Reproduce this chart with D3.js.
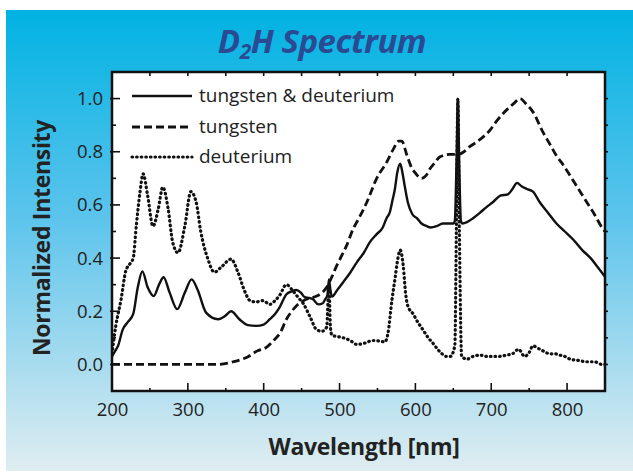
<!DOCTYPE html>
<html><head><meta charset="utf-8">
<script src="https://cdn.jsdelivr.net/npm/d3@7"></script>
<style>html,body{margin:0;padding:0;background:#fff;}svg{display:block;}</style>
</head><body>
<svg id="chart" width="633" height="473"></svg>
<script>
// ---------- data ----------
const titleMain = "D";
const titleSub = "2";
const titleRest = "H Spectrum";
const xTitle = "Wavelength [nm]";
const yTitle = "Normalized Intensity";
const xTicks = [200, 300, 400, 500, 600, 700, 800];
const yTicks = [0.0, 0.2, 0.4, 0.6, 0.8, 1.0];
const seriesNames = ["tungsten & deuterium", "tungsten", "deuterium"];

// tungsten & deuterium (solid)
const bothWl = [
200, 204, 208, 214, 221, 228, 234, 240, 247, 255,
262, 268, 276, 286, 296, 305, 313, 324, 340, 349,
357, 368, 379, 390, 400, 408, 415, 421, 430, 437,
443, 449, 454, 460, 465, 472, 478, 481, 484, 486,
488, 490, 497, 505, 514, 523, 532, 540, 549, 557,
562, 566, 570, 573, 576, 580, 583, 586, 590, 596,
602, 608, 615, 620, 628, 636, 643, 650, 652, 654.5,
656, 657.5, 660, 662, 668, 676, 685, 693, 702, 712,
722, 728, 734, 740, 747, 755, 764, 775, 786, 797,
808, 820, 831, 842, 850];
const bothVal = [
0.03, 0.05, 0.07, 0.13, 0.16, 0.19, 0.29, 0.35, 0.29, 0.257,
0.30, 0.328, 0.27, 0.208, 0.27, 0.32, 0.28, 0.195, 0.17, 0.182,
0.20, 0.17, 0.148, 0.145, 0.15, 0.17, 0.19, 0.215, 0.264, 0.275,
0.28, 0.27, 0.253, 0.25, 0.245, 0.226, 0.23, 0.245, 0.26, 0.32,
0.28, 0.255, 0.28, 0.31, 0.345, 0.385, 0.42, 0.46, 0.49, 0.515,
0.55, 0.57, 0.62, 0.66, 0.72, 0.755, 0.72, 0.67, 0.61, 0.565,
0.55, 0.53, 0.52, 0.515, 0.52, 0.53, 0.53, 0.53, 0.54, 0.8,
1.0, 0.8, 0.54, 0.53, 0.535, 0.55, 0.57, 0.59, 0.61, 0.635,
0.64, 0.66, 0.683, 0.67, 0.66, 0.65, 0.61, 0.57, 0.53, 0.5,
0.47, 0.43, 0.4, 0.36, 0.33];

// tungsten (dashed)
const tungWl = [
200, 250, 300, 340, 360, 380, 391, 404, 413, 422,
430, 437, 443, 450, 456, 463, 470, 477, 483, 490,
496, 503, 509, 518, 525, 536, 549, 562, 571, 578,
582, 589, 595, 600, 608, 614, 619, 626, 632, 645,
656, 664, 672, 680, 689, 698, 707, 716, 725, 731,
738, 746, 755, 768, 777, 786, 795, 804, 815, 826,
836, 846, 850];
const tungVal = [
0, 0, 0, 0, 0.01, 0.03, 0.05, 0.065, 0.09, 0.12,
0.17, 0.2, 0.22, 0.235, 0.245, 0.25, 0.257, 0.27, 0.29, 0.33,
0.37, 0.41, 0.445, 0.51, 0.547, 0.61, 0.70, 0.76, 0.81, 0.84,
0.84, 0.785, 0.74, 0.72, 0.70, 0.71, 0.735, 0.76, 0.78, 0.79,
0.79, 0.80, 0.82, 0.835, 0.855, 0.88, 0.915, 0.945, 0.97, 0.985,
1.0, 0.98, 0.95, 0.875, 0.83, 0.785, 0.75, 0.71, 0.66, 0.61,
0.565, 0.515, 0.5];

// deuterium (dotted)
const deutWl = [
200, 205, 212, 218, 224, 228, 232, 237, 241, 247,
254, 261, 267, 274, 280, 287, 296, 304, 311, 317,
326, 335, 344, 357, 366, 375, 382, 390, 399, 408,
415, 421, 430, 439, 446, 452, 461, 470, 477, 483,
486, 488, 490, 497, 505, 514, 523, 533, 544, 552,
560, 564, 569, 573, 577, 580, 584, 587, 590, 597,
603, 610, 617, 623, 630, 635, 641, 646, 652, 654,
656, 658, 661, 668, 676, 685, 694, 702, 711, 720,
728, 736, 744, 750, 755, 762, 769, 777, 784, 790,
797, 804, 815, 826, 836, 846, 850];
const deutVal = [
0.04, 0.145, 0.245, 0.35, 0.38, 0.40, 0.52, 0.65, 0.717, 0.635,
0.52, 0.585, 0.667, 0.585, 0.46, 0.42, 0.52, 0.65, 0.61, 0.50,
0.40, 0.347, 0.366, 0.396, 0.347, 0.275, 0.24, 0.235, 0.24, 0.226,
0.24, 0.26, 0.30, 0.275, 0.25, 0.23, 0.18, 0.13, 0.125, 0.14,
0.3, 0.14, 0.11, 0.105, 0.10, 0.09, 0.075, 0.08, 0.09, 0.088,
0.085, 0.12, 0.24, 0.32, 0.40, 0.43, 0.37, 0.27, 0.22, 0.19,
0.16, 0.13, 0.10, 0.08, 0.055, 0.04, 0.03, 0.03, 0.07, 0.5,
1.0, 0.5, 0.03, 0.02, 0.03, 0.035, 0.03, 0.03, 0.03, 0.035,
0.04, 0.057, 0.03, 0.045, 0.07, 0.06, 0.05, 0.04, 0.04, 0.035,
0.03, 0.02, 0.015, 0.01, 0.01, 0.0, 0.0];

// ---------- chart ----------
const svg = d3.select("#chart");
const W = 633, H = 473;
const FONT = "'Open Sans', 'Noto Sans', sans-serif";
const TEXT = "#222";

const defs = svg.append("defs");
const grad = defs.append("linearGradient").attr("id", "bg").attr("x1", 0).attr("y1", 0).attr("x2", 0).attr("y2", 1);
grad.append("stop").attr("offset", "0%").attr("stop-color", "#00b2e2");
grad.append("stop").attr("offset", "45%").attr("stop-color", "#5cc4ec");
grad.append("stop").attr("offset", "100%").attr("stop-color", "#dfedf1");

svg.append("rect").attr("x", 6).attr("y", 10).attr("width", W - 6).attr("height", 461).attr("fill", "url(#bg)");

const plot = {left: 112, right: 605, top: 72, bottom: 391};
const x = d3.scaleLinear().domain([200, 850]).range([plot.left, plot.right]);
const y = d3.scaleLinear().domain([-0.1, 1.1]).range([plot.bottom, plot.top]);

svg.append("rect").attr("x", plot.left).attr("y", plot.top)
  .attr("width", plot.right - plot.left).attr("height", plot.bottom - plot.top)
  .attr("fill", "#fff");

// title
const title = svg.append("text").attr("x", 322).attr("y", 53).attr("text-anchor", "middle")
  .attr("font-family", "'Noto Sans', 'Open Sans', sans-serif").attr("font-weight", "bold").attr("font-style", "italic")
  .attr("font-size", 33).attr("fill", "#2b4a94").attr("letter-spacing", -0.5);
title.append("tspan").text(titleMain);
title.append("tspan").attr("font-size", 21).attr("dy", 6).text(titleSub);
title.append("tspan").attr("dy", -6).text(titleRest);

// clip for data
defs.append("clipPath").attr("id", "clip").append("rect")
  .attr("x", plot.left).attr("y", plot.top).attr("width", plot.right - plot.left).attr("height", plot.bottom - plot.top);

const line = d3.line().x(d => x(d[0])).y(d => y(d[1])).curve(d3.curveMonotoneX);
const zip = (a, b) => a.map((v, i) => [v, b[i]]);

const DOT = "0.6,4", DASH = "8,4";
const g = svg.append("g").attr("clip-path", "url(#clip)");
g.append("path").datum(zip(deutWl, deutVal)).attr("d", line).attr("fill", "none")
  .attr("stroke", "#111").attr("stroke-width", 3.2).attr("stroke-linecap", "round")
  .attr("stroke-dasharray", DOT);
g.append("path").datum(zip(tungWl, tungVal)).attr("d", line).attr("fill", "none")
  .attr("stroke", "#111").attr("stroke-width", 2.8).attr("stroke-dasharray", DASH);
g.append("path").datum(zip(bothWl, bothVal)).attr("d", line).attr("fill", "none")
  .attr("stroke", "#111").attr("stroke-width", 2.4).attr("stroke-linejoin", "round");

// axes
const axisG = svg.append("g");
const bottomAx = d3.axisBottom(x).tickValues(xTicks).tickSize(0).tickPadding(12).tickFormat(d3.format("d"));
const ba = axisG.append("g").attr("transform", `translate(0,${plot.bottom})`).call(bottomAx);
ba.select(".domain").remove();
ba.selectAll("text").attr("font-family", FONT).attr("font-size", 18.5).attr("fill", TEXT);

const leftAx = d3.axisLeft(y).tickValues(yTicks).tickSize(0).tickPadding(9).tickFormat(d3.format(".1f"));
const la = axisG.append("g").attr("transform", `translate(${plot.left},0)`).call(leftAx);
la.select(".domain").remove();
la.selectAll("text").attr("font-family", FONT).attr("font-size", 18.5).attr("fill", TEXT);

// tick marks
const tk = svg.append("g").attr("stroke", "#111").attr("stroke-width", 1.6);
const xMinor = d3.range(250, 850, 100);
xTicks.forEach(v => {
  tk.append("line").attr("x1", x(v)).attr("x2", x(v)).attr("y1", plot.bottom).attr("y2", plot.bottom - 8);
  tk.append("line").attr("x1", x(v)).attr("x2", x(v)).attr("y1", plot.top).attr("y2", plot.top + 4);
});
xMinor.forEach(v => {
  tk.append("line").attr("x1", x(v)).attr("x2", x(v)).attr("y1", plot.bottom).attr("y2", plot.bottom - 3);
  tk.append("line").attr("x1", x(v)).attr("x2", x(v)).attr("y1", plot.top).attr("y2", plot.top + 4);
});
yTicks.forEach(v => {
  tk.append("line").attr("x1", plot.left - 2).attr("x2", plot.left + 8).attr("y1", y(v)).attr("y2", y(v));
  tk.append("line").attr("x1", plot.right).attr("x2", plot.right + 3).attr("y1", y(v)).attr("y2", y(v));
});
d3.range(0.1, 1.1, 0.2).forEach(v => {
  tk.append("line").attr("x1", plot.left).attr("x2", plot.left + 4).attr("y1", y(v)).attr("y2", y(v));
  tk.append("line").attr("x1", plot.right).attr("x2", plot.right + 3).attr("y1", y(v)).attr("y2", y(v));
});

// frame
svg.append("rect").attr("x", plot.left).attr("y", plot.top)
  .attr("width", plot.right - plot.left).attr("height", plot.bottom - plot.top)
  .attr("fill", "none").attr("stroke", "#111").attr("stroke-width", 2.5);

// axis titles
svg.append("text").attr("x", 364).attr("y", 455).attr("text-anchor", "middle")
  .attr("font-family", FONT).attr("font-weight", "bold").attr("font-size", 23).attr("fill", TEXT)
  .attr("letter-spacing", -0.3).text(xTitle);
svg.append("text").attr("transform", "translate(50,238) rotate(-90)").attr("text-anchor", "middle")
  .attr("font-family", FONT).attr("font-weight", "bold").attr("font-size", 23).attr("fill", TEXT)
  .attr("letter-spacing", -0.3).text(yTitle);

// legend
const legY = [96, 127, 157];
const legDash = [null, DASH, DOT];
const legW = [2.4, 2.8, 3.2];
const leg = svg.append("g");
seriesNames.forEach((name, i) => {
  leg.append("line").attr("x1", 132).attr("x2", 192).attr("y1", legY[i]).attr("y2", legY[i])
    .attr("stroke", "#111").attr("stroke-width", legW[i])
    .attr("stroke-dasharray", legDash[i]).attr("stroke-linecap", i === 2 ? "round" : "butt");
  leg.append("text").attr("x", 199).attr("y", legY[i] + 6).attr("font-family", FONT)
    .attr("font-size", 19).attr("fill", TEXT).text(name);
});
</script>
</body></html>
